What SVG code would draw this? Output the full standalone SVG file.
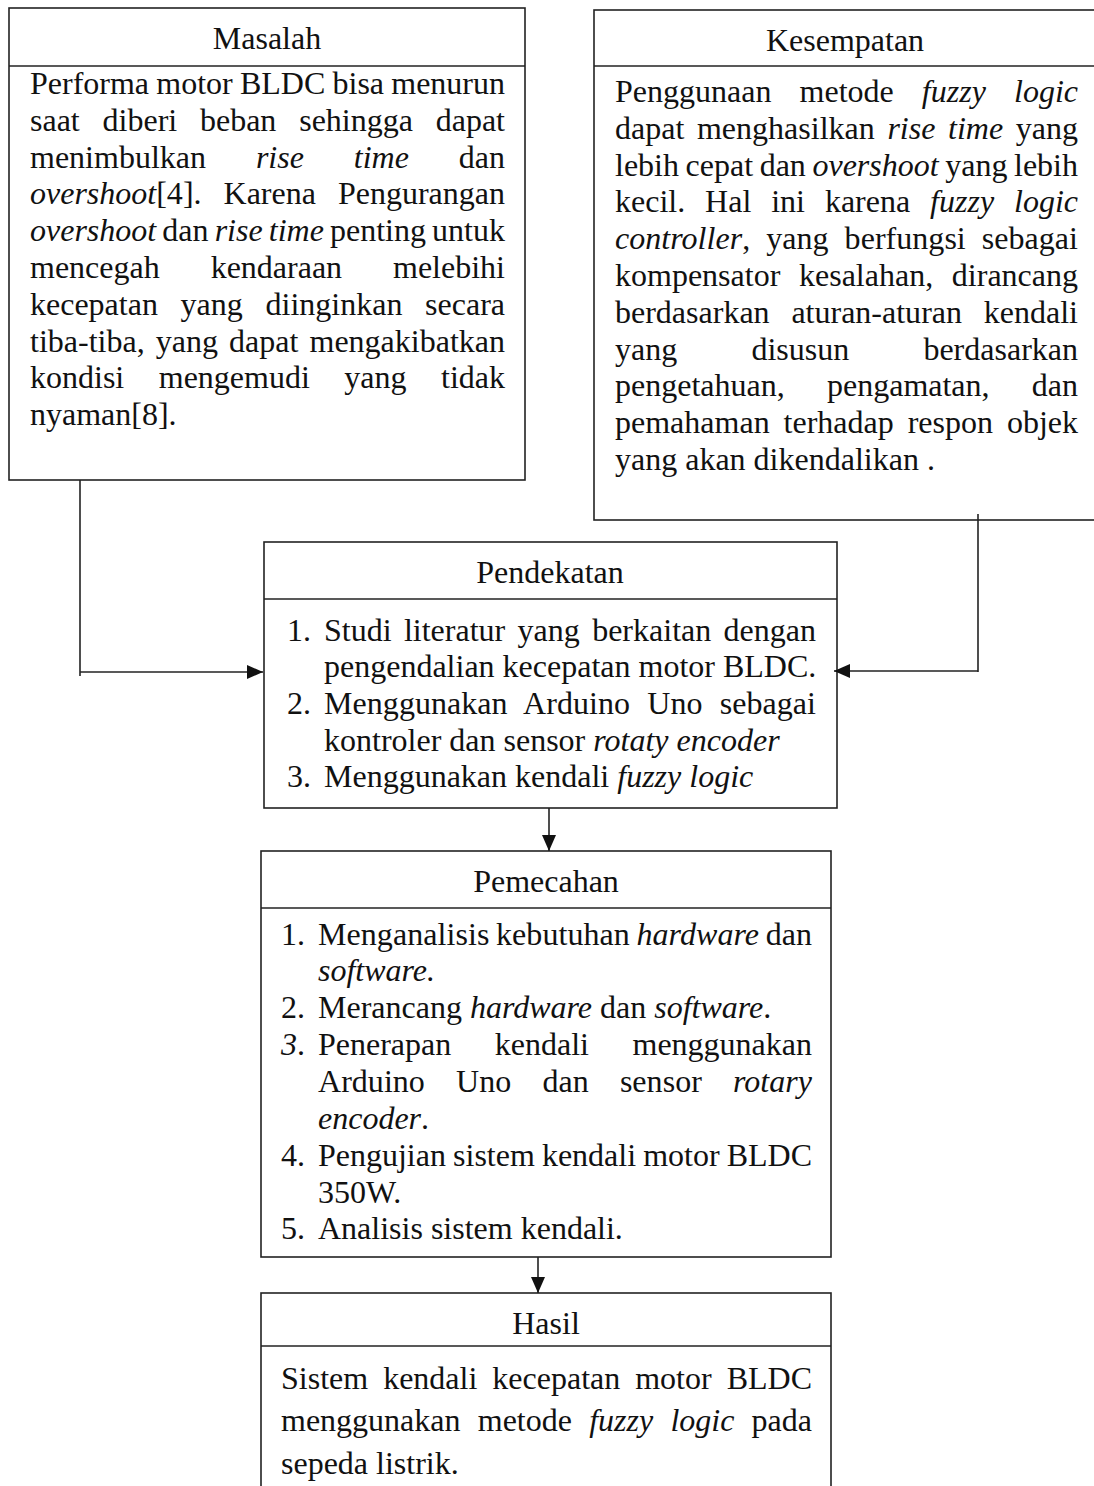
<svg xmlns="http://www.w3.org/2000/svg" width="1094" height="1486" viewBox="0 0 1094 1486">
<defs>
<style>
.t{font-family:"Liberation Serif","Times New Roman",serif;font-size:32px;fill:#111;}
.m{text-anchor:middle;}
.i{font-style:italic;}
.box{fill:none;stroke:#222;stroke-width:1.6;}
.c{fill:none;stroke:#222;stroke-width:1.6;}
</style>
<marker id="ah" viewBox="0 0 16 14" refX="16" refY="7" markerWidth="16" markerHeight="14" markerUnits="userSpaceOnUse" orient="auto">
<path d="M0,0 L16,7 L0,14 Z" fill="#111"/>
</marker>
</defs>
<rect width="1094" height="1486" fill="#fff"/>

<g id="masalah">
<rect class="box" x="9" y="8" width="516" height="472"/>
<line class="box" x1="9" y1="66" x2="525" y2="66"/>
<text class="t m" x="267" y="49">Masalah</text>
<text class="t" x="30" y="94" word-spacing="-0.8" textLength="475" lengthAdjust="spacing">Performa motor BLDC bisa menurun</text>
<text class="t" x="30" y="131" word-spacing="14.8" textLength="475" lengthAdjust="spacing">saat diberi beban sehingga dapat</text>
<text class="t" x="30" y="168" word-spacing="41.9" textLength="475" lengthAdjust="spacing">menimbulkan <tspan class="i">rise</tspan> <tspan class="i">time</tspan> dan</text>
<text class="t" x="30" y="204" word-spacing="14" textLength="475" lengthAdjust="spacing"><tspan class="i">overshoot</tspan>[4]. Karena Pengurangan</text>
<text class="t" x="30" y="241" word-spacing="-1.9" textLength="475" lengthAdjust="spacing"><tspan class="i">overshoot</tspan> dan <tspan class="i">rise time</tspan> penting untuk</text>
<text class="t" x="30" y="278" word-spacing="42.9" textLength="475" lengthAdjust="spacing">mencegah kendaraan melebihi</text>
<text class="t" x="30" y="315" word-spacing="14.7" textLength="475" lengthAdjust="spacing">kecepatan yang diinginkan secara</text>
<text class="t" x="30" y="352" word-spacing="3.1" textLength="475" lengthAdjust="spacing">tiba-tiba, yang dapat mengakibatkan</text>
<text class="t" x="30" y="388" word-spacing="26.5" textLength="475" lengthAdjust="spacing">kondisi mengemudi yang tidak</text>
<text class="t" x="30" y="425">nyaman[8].</text>
</g>

<g id="kesempatan">
<rect class="box" x="594" y="10" width="520" height="510"/>
<line class="box" x1="594" y1="66" x2="1094" y2="66"/>
<text class="t m" x="845" y="51">Kesempatan</text>
<text class="t" x="615" y="102" word-spacing="20.1" textLength="463" lengthAdjust="spacing">Penggunaan metode <tspan class="i">fuzzy</tspan> <tspan class="i">logic</tspan></text>
<text class="t" x="615" y="139" word-spacing="4.6" textLength="463" lengthAdjust="spacing">dapat menghasilkan <tspan class="i">rise time</tspan> yang</text>
<text class="t" x="615" y="176" word-spacing="-1.4" textLength="463" lengthAdjust="spacing">lebih cepat dan <tspan class="i">overshoot</tspan> yang lebih</text>
<text class="t" x="615" y="212" word-spacing="11.9" textLength="463" lengthAdjust="spacing">kecil. Hal ini karena <tspan class="i">fuzzy</tspan> <tspan class="i">logic</tspan></text>
<text class="t" x="615" y="249" word-spacing="8" textLength="463" lengthAdjust="spacing"><tspan class="i">controller</tspan>, yang berfungsi sebagai</text>
<text class="t" x="615" y="286" word-spacing="10.7" textLength="463" lengthAdjust="spacing">kompensator kesalahan, dirancang</text>
<text class="t" x="615" y="323" word-spacing="13.8" textLength="463" lengthAdjust="spacing">berdasarkan aturan-aturan kendali</text>
<text class="t" x="615" y="360" word-spacing="66.2" textLength="463" lengthAdjust="spacing">yang disusun berdasarkan</text>
<text class="t" x="615" y="396" word-spacing="34.2" textLength="463" lengthAdjust="spacing">pengetahuan, pengamatan, dan</text>
<text class="t" x="615" y="433" word-spacing="5.9" textLength="463" lengthAdjust="spacing">pemahaman terhadap respon objek</text>
<text class="t" x="615" y="470">yang akan dikendalikan .</text>
</g>

<g id="pendekatan">
<rect class="box" x="264" y="542" width="573" height="266"/>
<line class="box" x1="264" y1="599" x2="837" y2="599"/>
<text class="t m" x="550" y="583">Pendekatan</text>
<text class="t" x="287" y="641">1.</text>
<text class="t" x="324" y="641" word-spacing="4.35" textLength="492" lengthAdjust="spacing">Studi literatur yang berkaitan dengan</text>
<text class="t" x="324" y="677">pengendalian kecepatan motor BLDC.</text>
<text class="t" x="287" y="714">2.</text>
<text class="t" x="324" y="714" word-spacing="9.1" textLength="492" lengthAdjust="spacing">Menggunakan Arduino Uno sebagai</text>
<text class="t" x="324" y="751">kontroler dan sensor <tspan class="i">rotaty encoder</tspan></text>
<text class="t" x="287" y="787">3.</text>
<text class="t" x="324" y="787">Menggunakan kendali <tspan class="i">fuzzy logic</tspan></text>
</g>

<g id="pemecahan">
<rect class="box" x="261" y="851" width="570" height="406"/>
<line class="box" x1="261" y1="908" x2="831" y2="908"/>
<text class="t m" x="546" y="892">Pemecahan</text>
<text class="t" x="281" y="945">1.</text>
<text class="t" x="318" y="945" word-spacing="-1.5" textLength="494" lengthAdjust="spacing">Menganalisis kebutuhan <tspan class="i">hardware</tspan> dan</text>
<text class="t" x="318" y="981"><tspan class="i">software.</tspan></text>
<text class="t" x="281" y="1018">2.</text>
<text class="t" x="318" y="1018">Merancang <tspan class="i">hardware</tspan> dan <tspan class="i">software</tspan>.</text>
<text class="t" x="281" y="1055"><tspan class="i">3</tspan>.</text>
<text class="t" x="318" y="1055" word-spacing="35.5" textLength="494" lengthAdjust="spacing">Penerapan kendali menggunakan</text>
<text class="t" x="318" y="1092" word-spacing="23.1" textLength="494" lengthAdjust="spacing">Arduino Uno dan sensor <tspan class="i">rotary</tspan></text>
<text class="t" x="318" y="1129"><tspan class="i">encoder</tspan>.</text>
<text class="t" x="281" y="1166">4.</text>
<text class="t" x="318" y="1166" word-spacing="-0.9" textLength="494" lengthAdjust="spacing">Pengujian sistem kendali motor BLDC</text>
<text class="t" x="318" y="1203">350W.</text>
<text class="t" x="281" y="1239">5.</text>
<text class="t" x="318" y="1239">Analisis sistem kendali.</text>
</g>

<g id="hasil">
<rect class="box" x="261" y="1293" width="570" height="220"/>
<line class="box" x1="261" y1="1346" x2="831" y2="1346"/>
<text class="t m" x="546" y="1334">Hasil</text>
<text class="t" x="281" y="1389" word-spacing="7" textLength="531" lengthAdjust="spacing">Sistem kendali kecepatan motor BLDC</text>
<text class="t" x="281" y="1431" word-spacing="9.2" textLength="531" lengthAdjust="spacing">menggunakan metode <tspan class="i">fuzzy logic</tspan> pada</text>
<text class="t" x="281" y="1474">sepeda listrik.</text>
</g>

<g id="connectors">
<line class="c" x1="80" y1="480" x2="80" y2="676"/>
<line class="c" x1="80" y1="672" x2="263" y2="672" marker-end="url(#ah)"/>
<line class="c" x1="978" y1="514" x2="978" y2="672"/>
<line class="c" x1="978" y1="671" x2="834" y2="671" marker-end="url(#ah)"/>
<line class="c" x1="549" y1="808" x2="549" y2="851" marker-end="url(#ah)"/>
<line class="c" x1="538" y1="1257" x2="538" y2="1293" marker-end="url(#ah)"/>
</g>
</svg>
